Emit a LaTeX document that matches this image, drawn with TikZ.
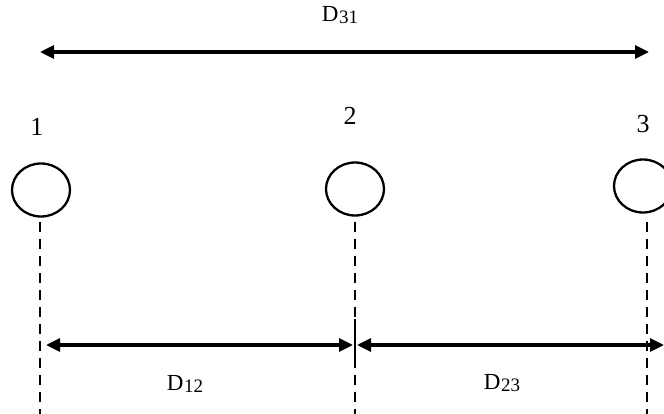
\documentclass[tikz,border=0pt]{standalone}
\usepackage{fontspec}
\setmainfont{Liberation Serif}
\usetikzlibrary{arrows.meta,shapes.geometric}
\begin{document}
\begin{tikzpicture}[x=1pt,y=-1pt,
  wire/.style={ellipse,draw,line width=2.3pt,minimum width=58pt,minimum height=53pt,inner sep=0pt},
  num/.style={font=\fontsize{26}{26}\selectfont,inner sep=0pt},
  dlab/.style={font=\fontsize{23}{23}\selectfont,inner sep=0pt},
  dim/.style={line width=3.2pt,{Triangle[length=14pt,width=13pt]}-{Triangle[length=14pt,width=13pt]}},
  guide/.style={line width=1.7pt,dash pattern=on 10pt off 7pt}]
\useasboundingbox (0,0) rectangle (664,414);
\newcommand{\sdist}[2]{D\kern0.5pt\raisebox{-2pt}{\fontsize{19}{19}\selectfont #1#2}}
% labels
\node[dlab] (d31) at (340,15) {\sdist{3}{1}};
\node[num] (n1) at (37,127) {1};
\node[num] (n2) at (350,116) {2};
\node[num] (n3) at (643,124) {3};
% conductors
\node[wire] (c1) at (41,190) {};
\node[wire] (c2) at (355,189) {};
\node[wire] (c3) at (643,186) {};
% guide lines
\coordinate (b1) at (40,414);
\coordinate (b2) at (355,414);
\coordinate (b3) at (647,414);
\coordinate (t1) at (40,222);
\coordinate (t2) at (355,222);
\coordinate (t3) at (647,222);
\draw[guide] (t1) -- (b1);
\draw[guide] (t2) -- (b2);
\draw[guide] (t3) -- (b3);
% top dimension
\coordinate (a1) at (40,52);
\coordinate (a3) at (649,52);
\draw[dim] (a1) -- (a3);
% bottom dimensions
\coordinate (l1) at (46,345);
\coordinate (l2) at (353,345);
\coordinate (r2) at (357,345);
\coordinate (r3) at (664,345);
\draw[dim] (l1) -- (l2);
\draw[dim] (r2) -- (r3);
\coordinate (k1) at (355,319);
\coordinate (k2) at (355,366);
\draw[line width=2.2pt] (k1) -- (k2);
\node[dlab] (d12) at (185,384) {\sdist{1}{2}};
\node[dlab] (d23) at (502,383) {\sdist{2}{3}};
\end{tikzpicture}
\end{document}
